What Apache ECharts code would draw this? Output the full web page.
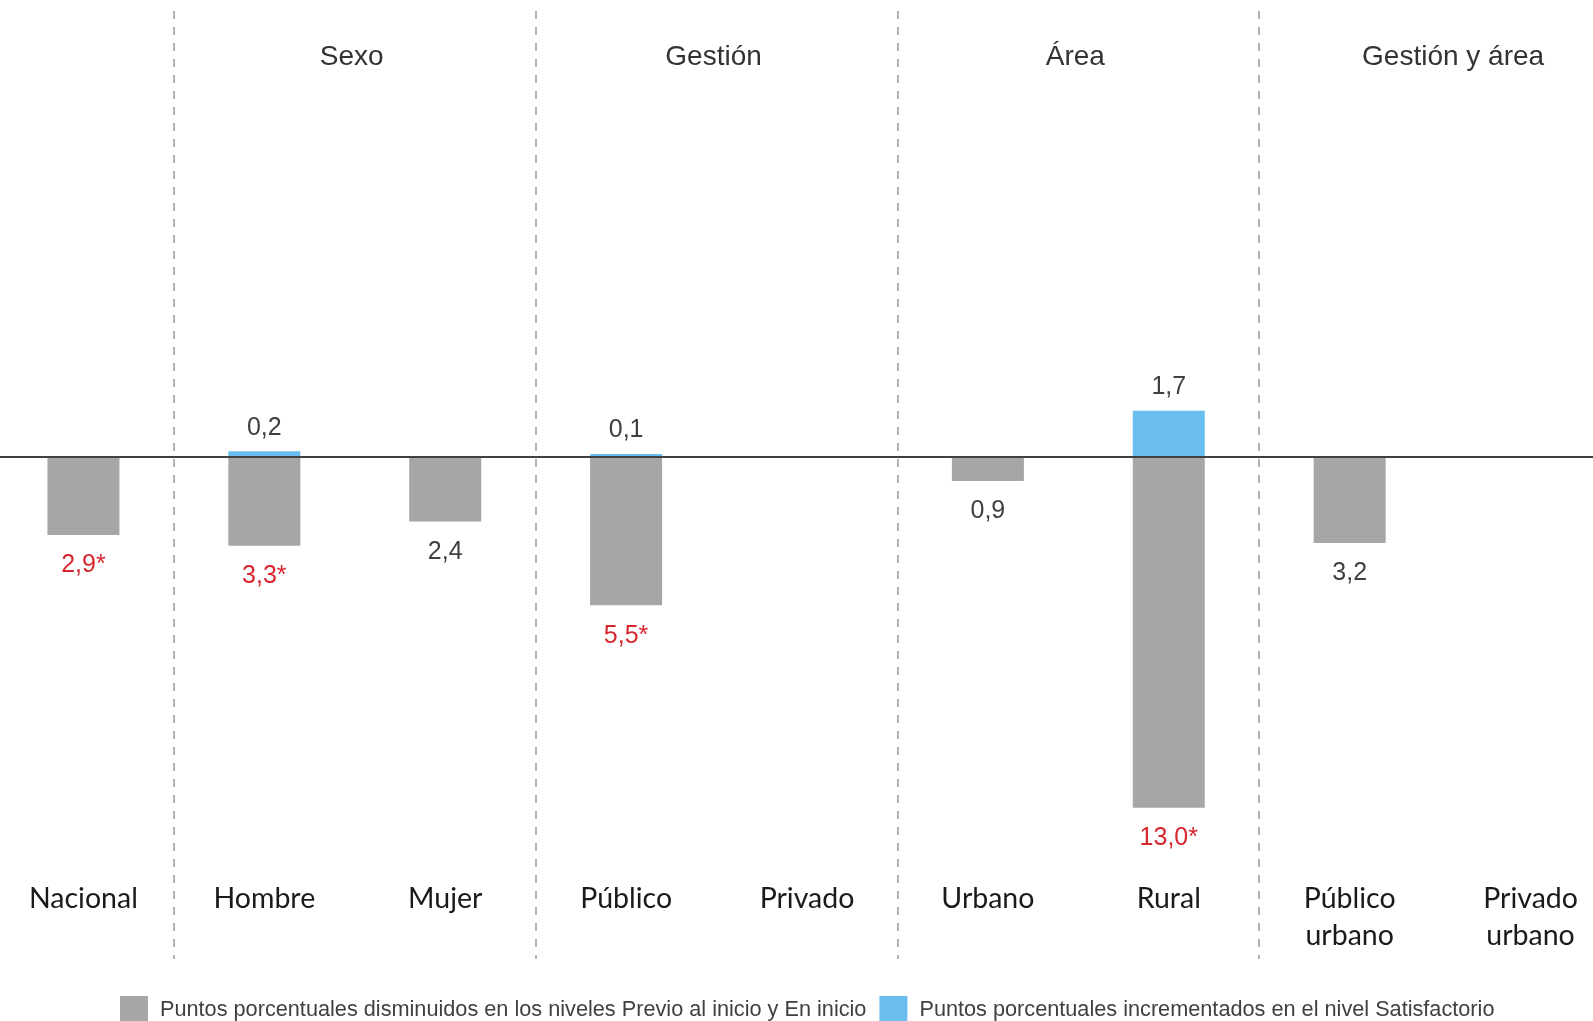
<!DOCTYPE html>
<html>
<head>
<meta charset="utf-8">
<script src="https://cdn.jsdelivr.net/npm/echarts@6/dist/echarts.min.js"></script>
<style>
html,body{margin:0;padding:0;background:#fff;}
#chart{width:1593px;height:1021px;}
</style>
</head>
<body>
<div id="chart"></div>
<script>
const categories = ['Nacional','Hombre','Mujer','Público','Privado','Urbano','Rural','Público\nurbano','Privado\nurbano'];
const decreaseValues = [2.9, 3.3, 2.4, 5.5, null, 0.9, 13.0, 3.2, null];
const decreaseSignificant = [true, true, false, true, false, false, true, false, false];
const increaseValues = [null, 0.2, null, 0.1, null, null, 1.7, null, null];
const groupNames = ['Sexo', 'Gestión', 'Área', 'Gestión y área'];
const groupStart = ['Hombre', 'Público', 'Urbano', 'Público\nurbano'];
const groupEnd = ['Mujer', 'Privado', 'Rural', 'Privado\nurbano'];
const separatorIndexes = [1, 3, 5, 7];
const seriesNames = ['Puntos porcentuales disminuidos en los niveles Previo al inicio y En inicio',
                     'Puntos porcentuales incrementados en el nivel Satisfactorio'];

const RED = '#d7262e', DARK = '#404040';
const fmt = v => v.toFixed(1).replace('.', ',');

const chart = echarts.init(document.getElementById('chart'), null, {renderer: 'canvas'});

const grayData = decreaseValues.map((v, i) => v == null ? null : {
  value: -v,
  label: {color: decreaseSignificant[i] ? RED : DARK}
});
const blueData = increaseValues.map(v => v == null ? null : {value: v});

const markAreaData = groupNames.map((n, i) => [
  {name: n, xAxis: groupStart[i], yAxis: 16.5,
   label: i === 3 ? {offset: [13, 0]} : {offset: [-3, 0]}},
  {xAxis: groupEnd[i], yAxis: 14}
]);

chart.setOption({
  animation: false,
  backgroundColor: '#fff',
  grid: {left: -7, width: 1628, top: 11, height: 948, containLabel: false, outerBoundsMode: 'none'},
  legend: {
    left: 115, top: 991,
    itemWidth: 28, itemHeight: 28, itemGap: 13,
    icon: 'rect',
    data: seriesNames,
    textStyle: {fontFamily: '"Liberation Sans", Arial, sans-serif', fontSize: 21.7, color: DARK, padding: [0, 0, 0, 7]}
  },
  xAxis: {
    type: 'category',
    data: categories,
    position: 'bottom',
    axisLine: {show: false, onZero: false},
    axisTick: {show: false},
    axisLabel: {
      inside: true, margin: 79, verticalAlign: 'top',
      fontFamily: 'Lato, "Open Sans", sans-serif', fontSize: 28.5, lineHeight: 37,
      color: '#1a1a1a', interval: 0
    },
    splitLine: {
      show: true,
      interval: (idx) => separatorIndexes.indexOf(idx) >= 0,
      lineStyle: {color: '#b4b4b4', width: 2, type: [8, 8]}
    }
  },
  yAxis: {type: 'value', min: -18.6, max: 16.5, show: false},
  series: [
    {
      name: seriesNames[0], type: 'bar', data: grayData, barWidth: 72, barGap: '-100%',
      itemStyle: {color: '#a6a6a6'},
      label: {
        show: true, position: 'bottom', distance: 18,
        fontFamily: '"Liberation Sans", Arial, sans-serif', fontSize: 25,
        formatter: p => fmt(Math.abs(p.value)) + (decreaseSignificant[p.dataIndex] ? '*' : '')
      },
      markLine: {
        silent: true, symbol: ['none', 'none'],
        lineStyle: {color: DARK, width: 2, type: 'solid'},
        label: {show: false},
        data: [{yAxis: 0}]
      },
      markArea: {
        silent: true,
        itemStyle: {color: 'rgba(0,0,0,0)'},
        label: {
          show: true, position: 'insideTop', distance: 32,
          fontFamily: '"Liberation Sans", Arial, sans-serif', fontSize: 28, color: '#333'
        },
        data: markAreaData
      }
    },
    {
      name: seriesNames[1], type: 'bar', data: blueData, barWidth: 72, barGap: '-100%',
      itemStyle: {color: '#6abdef'},
      label: {
        show: true, position: 'top', distance: 11,
        fontFamily: '"Liberation Sans", Arial, sans-serif', fontSize: 25, color: DARK,
        formatter: p => fmt(p.value)
      }
    }
  ]
});
</script>
</body>
</html>
